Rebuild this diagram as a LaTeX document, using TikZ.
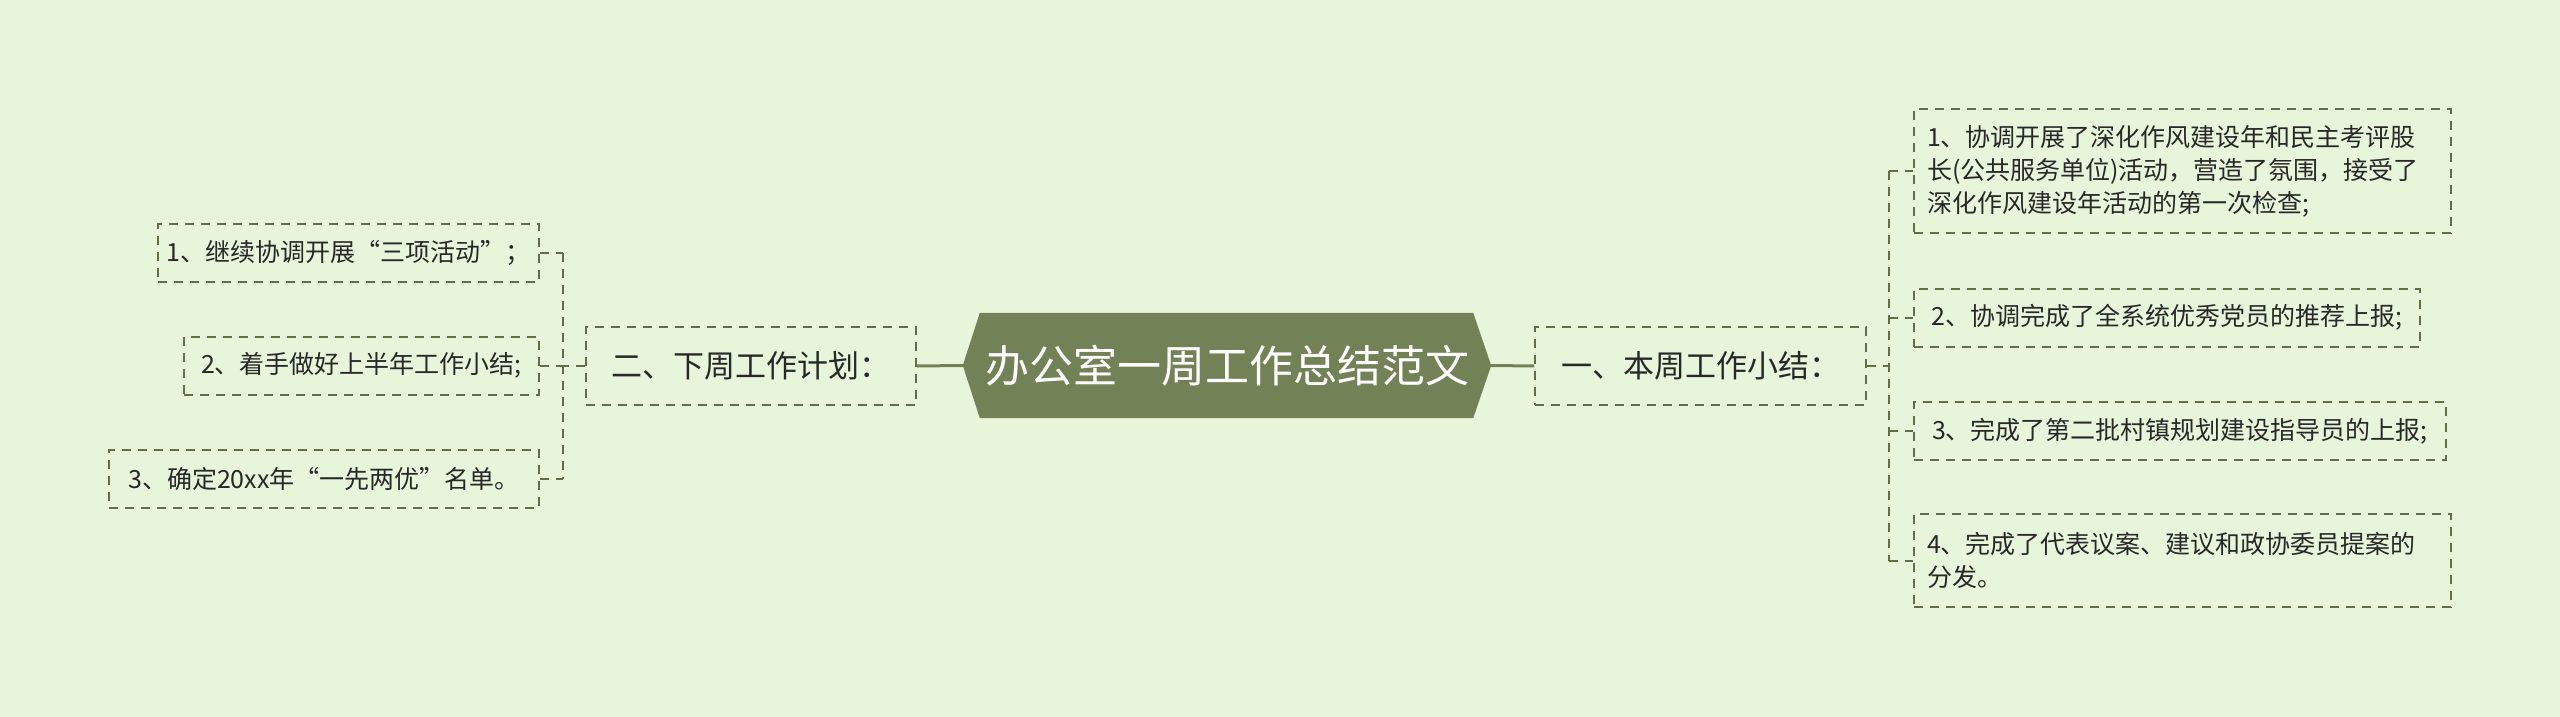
\documentclass[tikz,border=0pt]{standalone}
\usepackage{fontspec}
\setmainfont{Noto Sans CJK SC}
\usetikzlibrary{calc}
\definecolor{bg}{RGB}{231,245,219}
\definecolor{olive}{RGB}{115,130,86}
\definecolor{dashc}{RGB}{98,110,72}
\definecolor{txt}{RGB}{40,40,40}
\tikzset{
  x=1pt,y=-1pt,
  box/.style={draw=dashc,line width=2pt,dash pattern=on 9pt off 7pt,text=txt,inner sep=0pt,font=\fontsize{25}{33}\selectfont,align=left},
  sub/.style={box,font=\fontsize{31}{36}\selectfont},
  conn/.style={draw=dashc,line width=2pt,dash pattern=on 9pt off 7pt},
  main/.style={draw=olive,line width=3pt},
}
\begin{document}
\begin{tikzpicture}
\useasboundingbox[fill=bg] (0,0) rectangle (2560,717);
% root
\node[minimum width=528pt,minimum height=105pt,inner sep=0pt] (root) at (1227,365.5) {};
\fill[olive] (root.west) -- ([xshift=17pt]root.north west) -- ([xshift=-18pt]root.north east) -- (root.east) -- ([xshift=-18pt]root.south east) -- ([xshift=17pt]root.south west) -- cycle;
\node[text=white,font=\fontsize{44}{48}\selectfont] (roottext) at (root.center) {办公室一周工作总结范文};
% level 1
\node[sub,minimum width=331pt,minimum height=78pt] (E) at (1700.5,366) {一、本周工作小结：};
\node[sub,minimum width=330pt,minimum height=78pt] (W) at (751,366) {二、下周工作计划：};
% right children
\node[box,minimum width=537pt,minimum height=124pt,text width=511pt] (R1) at (2182.5,171) {1、协调开展了深化作风建设年和民主考评股\\长(公共服务单位)活动，营造了氛围，接受了\\深化作风建设年活动的第一次检查;};
\node[box,minimum width=506pt,minimum height=58pt] (R2) at (2167,317.5) {2、协调完成了全系统优秀党员的推荐上报;};
\node[box,minimum width=532pt,minimum height=58pt] (R3) at (2180,431) {3、完成了第二批村镇规划建设指导员的上报;};
\node[box,minimum width=537pt,minimum height=93pt,text width=511pt] (R4) at (2182.5,560.5) {4、完成了代表议案、建议和政协委员提案的\\分发。};
% left children
\node[box,minimum width=381pt,minimum height=58pt] (L1) at (348.5,253) {1、继续协调开展“三项活动”；};
\node[box,minimum width=355pt,minimum height=58pt] (L2) at (361.5,365.5) {2、着手做好上半年工作小结;};
\node[box,minimum width=430pt,minimum height=58pt] (L3) at (324,478.5) {3、确定20xx年“一先两优”名单。};
% connectors
\draw[main] (root.east) -- (E.west);
\draw[main] (root.west) -- (W.east);
\coordinate (rbus) at (1889,366);
\coordinate (lbus) at (563,366);
\draw[conn] (E.east) -- (rbus);
\draw[conn] (rbus |- R1.west) -- (rbus |- R4.west);
\foreach \n in {R1,R2,R3,R4} \draw[conn] (rbus |- \n.west) -- (\n.west);
\draw[conn] (W.west) -- (lbus);
\draw[conn] (lbus |- L1.east) -- (lbus |- L3.east);
\foreach \n in {L1,L2,L3} \draw[conn] (\n.east) -- (lbus |- \n.east);
\end{tikzpicture}
\end{document}
